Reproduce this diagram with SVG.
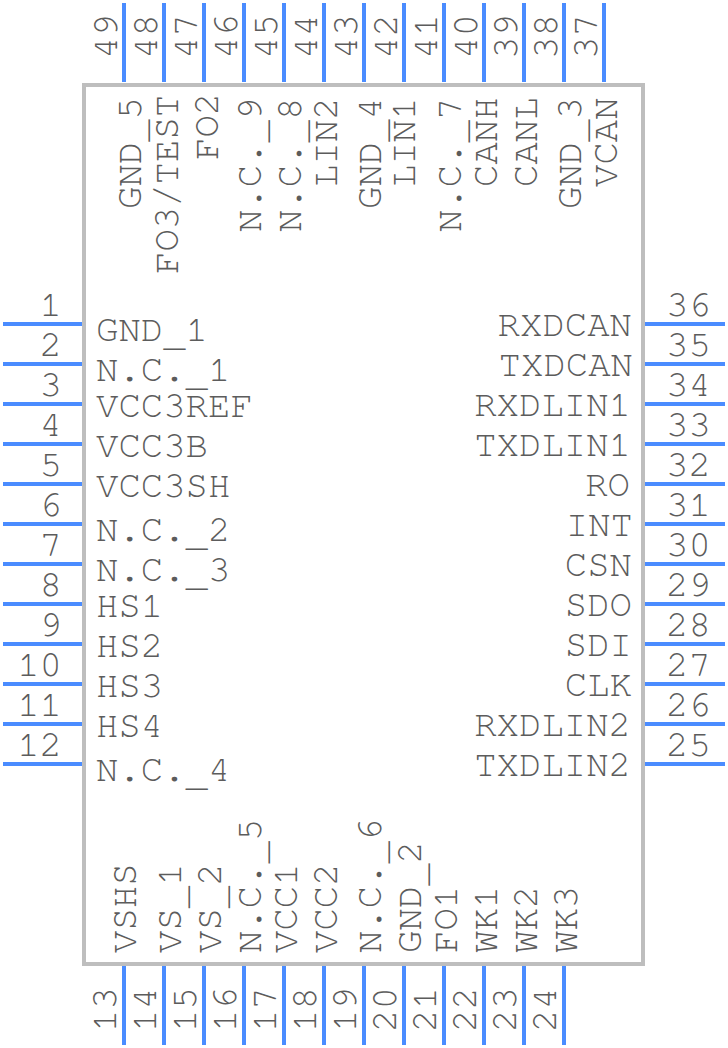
<svg xmlns="http://www.w3.org/2000/svg" width="728" height="1048" viewBox="0 0 728 1048">
<style>
text{font-family:FreeMono,"Liberation Mono",monospace;font-size:37.33px;fill:#5c5c5c}
.e{text-anchor:end}
.p{stroke:#4a8cff;stroke-width:4;fill:none}
.b{fill:#fff;stroke:#bebebe;stroke-width:4}
</style>
<rect width="728" height="1048" fill="#fff"/>
<g id="body"><rect class="b" x="84" y="85" width="559" height="879"/></g>
<g id="connectors">
<path class="p" d="M3 324H82M3 364H82M3 404H82M3 444H82M3 484H82M3 524H82M3 564H82M3 604H82M3 644H82M3 684H82M3 724H82M3 764H82"/>
<path class="p" d="M645 324H725M645 364H725M645 404H725M645 444H725M645 484H725M645 524H725M645 564H725M645 604H725M645 644H725M645 684H725M645 724H725M645 764H725"/>
<path class="p" d="M124 966V1045M164 966V1045M204 966V1045M244 966V1045M284 966V1045M324 966V1045M364 966V1045M404 966V1045M444 966V1045M484 966V1045M524 966V1045M564 966V1045"/>
<path class="p" d="M124 3V82M164 3V82M204 3V82M244 3V82M284 3V82M324 3V82M364 3V82M404 3V82M444 3V82M484 3V82M524 3V82M564 3V82M604 3V82"/>
</g>
<g id="pin1"><text class="e" x="62" y="316">1</text><text x="96" y="341">GND<tspan dy="5">_</tspan><tspan dy="-5">1</tspan></text></g>
<g id="pin2"><text class="e" x="62" y="356">2</text><text x="96" y="381">N.C.<tspan dy="5">_</tspan><tspan dy="-5">1</tspan></text></g>
<g id="pin3"><text class="e" x="62" y="396">3</text><text x="96" y="417">VCC3REF</text></g>
<g id="pin4"><text class="e" x="62" y="436">4</text><text x="96" y="457">VCC3B</text></g>
<g id="pin5"><text class="e" x="62" y="476">5</text><text x="96" y="497">VCC3SH</text></g>
<g id="pin6"><text class="e" x="62" y="516">6</text><text x="96" y="541">N.C.<tspan dy="5">_</tspan><tspan dy="-5">2</tspan></text></g>
<g id="pin7"><text class="e" x="62" y="556">7</text><text x="96" y="581">N.C.<tspan dy="5">_</tspan><tspan dy="-5">3</tspan></text></g>
<g id="pin8"><text class="e" x="62" y="596">8</text><text x="96" y="617">HS1</text></g>
<g id="pin9"><text class="e" x="62" y="636">9</text><text x="96" y="657">HS2</text></g>
<g id="pin10"><text class="e" x="62" y="676">10</text><text x="96" y="697">HS3</text></g>
<g id="pin11"><text class="e" x="62" y="716">11</text><text x="96" y="737">HS4</text></g>
<g id="pin12"><text class="e" x="62" y="756">12</text><text x="96" y="781">N.C.<tspan dy="5">_</tspan><tspan dy="-5">4</tspan></text></g>
<g id="pin36"><text x="666" y="316">36</text><text class="e" x="632" y="336">RXDCAN</text></g>
<g id="pin35"><text x="666" y="356">35</text><text class="e" x="633" y="376">TXDCAN</text></g>
<g id="pin34"><text x="666" y="396">34</text><text class="e" x="631" y="416">RXDLIN1</text></g>
<g id="pin33"><text x="666" y="436">33</text><text class="e" x="631" y="456">TXDLIN1</text></g>
<g id="pin32"><text x="666" y="476">32</text><text class="e" x="630" y="496">RO</text></g>
<g id="pin31"><text x="666" y="516">31</text><text class="e" x="633" y="536">INT</text></g>
<g id="pin30"><text x="666" y="556">30</text><text class="e" x="632" y="576">CSN</text></g>
<g id="pin29"><text x="666" y="596">29</text><text class="e" x="632" y="616">SDO</text></g>
<g id="pin28"><text x="666" y="636">28</text><text class="e" x="632" y="656">SDI</text></g>
<g id="pin27"><text x="666" y="676">27</text><text class="e" x="632" y="696">CLK</text></g>
<g id="pin26"><text x="666" y="716">26</text><text class="e" x="631" y="736">RXDLIN2</text></g>
<g id="pin25"><text x="666" y="756">25</text><text class="e" x="631" y="776">TXDLIN2</text></g>
<g id="pin13"><text transform="translate(116 1032) rotate(-90)">13</text><text transform="translate(136 953) rotate(-90)">VSHS</text></g>
<g id="pin14"><text transform="translate(156 1032) rotate(-90)">14</text><text transform="translate(181 953) rotate(-90)">VS<tspan dy="5">_</tspan><tspan dy="-5">1</tspan></text></g>
<g id="pin15"><text transform="translate(196 1032) rotate(-90)">15</text><text transform="translate(221 953) rotate(-90)">VS<tspan dy="5">_</tspan><tspan dy="-5">2</tspan></text></g>
<g id="pin16"><text transform="translate(236 1032) rotate(-90)">16</text><text transform="translate(261 953) rotate(-90)">N.C.<tspan dy="5">_</tspan><tspan dy="-5">5</tspan></text></g>
<g id="pin17"><text transform="translate(276 1032) rotate(-90)">17</text><text transform="translate(297 953) rotate(-90)">VCC1</text></g>
<g id="pin18"><text transform="translate(316 1032) rotate(-90)">18</text><text transform="translate(337 953) rotate(-90)">VCC2</text></g>
<g id="pin19"><text transform="translate(356 1032) rotate(-90)">19</text><text transform="translate(381 953) rotate(-90)">N.C.<tspan dy="5">_</tspan><tspan dy="-5">6</tspan></text></g>
<g id="pin20"><text transform="translate(396 1032) rotate(-90)">20</text><text transform="translate(421 953) rotate(-90)">GND<tspan dy="5">_</tspan><tspan dy="-5">2</tspan></text></g>
<g id="pin21"><text transform="translate(436 1032) rotate(-90)">21</text><text transform="translate(457 953) rotate(-90)">FO1</text></g>
<g id="pin22"><text transform="translate(476 1032) rotate(-90)">22</text><text transform="translate(497 953) rotate(-90)">WK1</text></g>
<g id="pin23"><text transform="translate(516 1032) rotate(-90)">23</text><text transform="translate(537 953) rotate(-90)">WK2</text></g>
<g id="pin24"><text transform="translate(556 1032) rotate(-90)">24</text><text transform="translate(577 953) rotate(-90)">WK3</text></g>
<g id="pin49"><text transform="translate(117 59) rotate(-90)">49</text><text transform="translate(141 209) rotate(-90)">GND<tspan dy="5">_</tspan><tspan dy="-5">5</tspan></text></g>
<g id="pin48"><text transform="translate(157 59) rotate(-90)">48</text><text transform="translate(178 274) rotate(-90)">FO3/TEST</text></g>
<g id="pin47"><text transform="translate(197 59) rotate(-90)">47</text><text transform="translate(218 160) rotate(-90)">FO2</text></g>
<g id="pin46"><text transform="translate(237 59) rotate(-90)">46</text><text transform="translate(261 232) rotate(-90)">N.C.<tspan dy="5">_</tspan><tspan dy="-5">9</tspan></text></g>
<g id="pin45"><text transform="translate(277 59) rotate(-90)">45</text><text transform="translate(301 232) rotate(-90)">N.C.<tspan dy="5">_</tspan><tspan dy="-5">8</tspan></text></g>
<g id="pin44"><text transform="translate(317 59) rotate(-90)">44</text><text transform="translate(337 187) rotate(-90)">LIN2</text></g>
<g id="pin43"><text transform="translate(357 59) rotate(-90)">43</text><text transform="translate(381 209) rotate(-90)">GND<tspan dy="5">_</tspan><tspan dy="-5">4</tspan></text></g>
<g id="pin42"><text transform="translate(397 59) rotate(-90)">42</text><text transform="translate(415 187) rotate(-90)">LIN1</text></g>
<g id="pin41"><text transform="translate(437 59) rotate(-90)">41</text><text transform="translate(461 232) rotate(-90)">N.C.<tspan dy="5">_</tspan><tspan dy="-5">7</tspan></text></g>
<g id="pin40"><text transform="translate(477 59) rotate(-90)">40</text><text transform="translate(497 187) rotate(-90)">CANH</text></g>
<g id="pin39"><text transform="translate(517 59) rotate(-90)">39</text><text transform="translate(537 187) rotate(-90)">CANL</text></g>
<g id="pin38"><text transform="translate(557 59) rotate(-90)">38</text><text transform="translate(581 209) rotate(-90)">GND<tspan dy="5">_</tspan><tspan dy="-5">3</tspan></text></g>
<g id="pin37"><text transform="translate(597 59) rotate(-90)">37</text><text transform="translate(617 187) rotate(-90)">VCAN</text></g>
</svg>
